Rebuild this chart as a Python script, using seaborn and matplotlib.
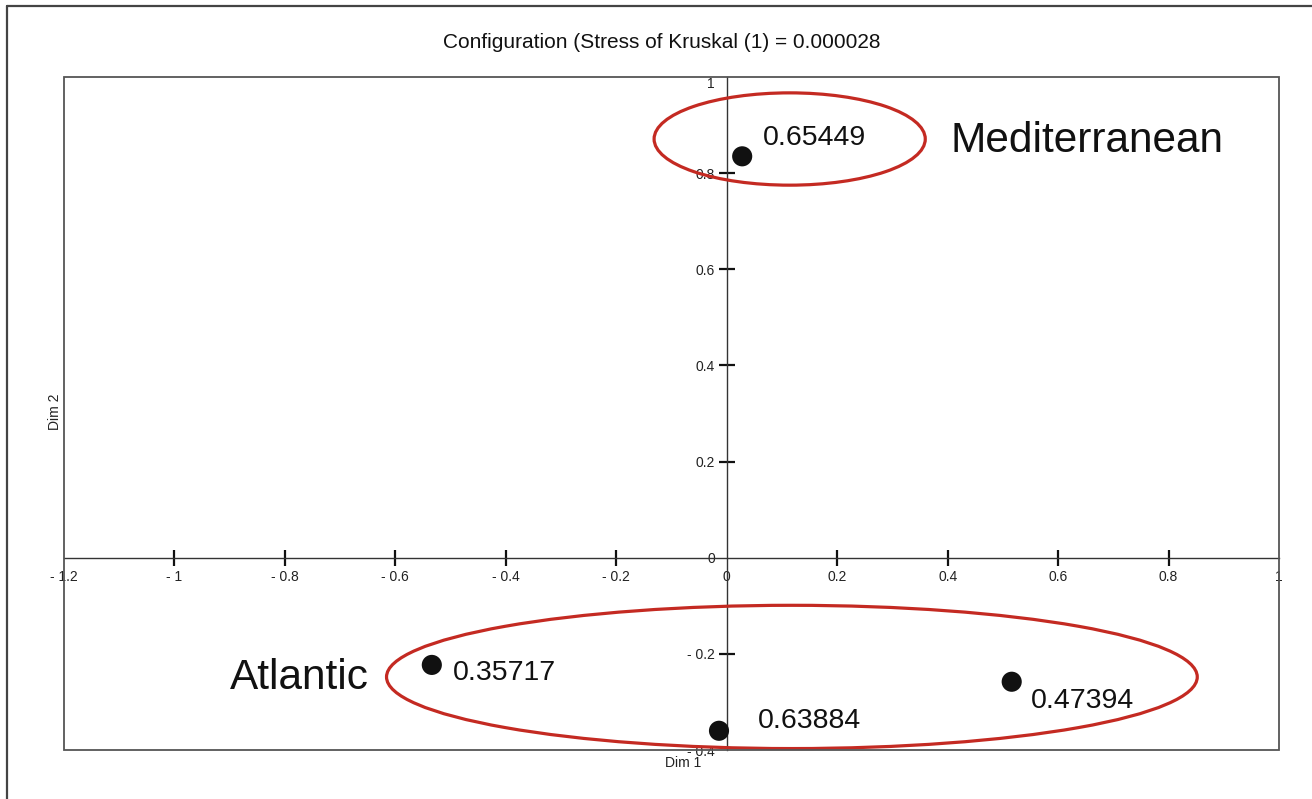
import pandas as pd
import matplotlib
matplotlib.use("Agg")
import matplotlib.pyplot as plt
from matplotlib.patches import Ellipse, Rectangle
from matplotlib.lines import Line2D
import seaborn as sns

# MDS configuration
dim1 = [0.028, -0.534, -0.014, 0.516]
dim2 = [0.835, -0.223, -0.360, -0.258]
valores = ["0.65449", "0.35717", "0.63884", "0.47394"]
offsets = [(15, 13), (15, -6), (28, 7), (14, -14)]  # points

grupos = ["Mediterranean", "Atlantic"]
grupo_xy = [(0.406, 0.867), (-0.899, -0.250)]
elipses = [((0.114, 0.871), 0.491, 0.192), ((0.118, -0.248), 1.468, 0.298)]

xticks = [-1.2, -1, -0.8, -0.6, -0.4, -0.2, 0, 0.2, 0.4, 0.6, 0.8, 1]
yticks = [-0.4, -0.2, 0, 0.2, 0.4, 0.6, 0.8, 1]


def etiqueta(v):
    s = f"{abs(v):g}"
    return "- " + s if v < 0 else s


df = pd.DataFrame({"dim1": dim1, "dim2": dim2, "valor": valores})

sns.set_style("white")
plt.rcParams["font.family"] = ["Liberation Sans", "DejaVu Sans"]

fig = plt.figure(figsize=(13.12, 7.99), dpi=100)
ax = fig.add_axes([64 / 1312, 1 - 750 / 799, 1215 / 1312, 673 / 799])

sns.scatterplot(data=df, x="dim1", y="dim2", color="#111111", s=210,
                edgecolor="none", ax=ax, zorder=5, clip_on=False)

for (cx, cy), w, h in elipses:
    ax.add_patch(Ellipse((cx, cy), w, h, fill=False, ec="#c42a22", lw=2.3,
                         zorder=4, clip_on=False))

for x, y, v, off in zip(dim1, dim2, valores, offsets):
    ax.annotate(v, (x, y), xytext=off, textcoords="offset points",
                fontsize=20.5, ha="left", va="center", color="#111111")

for g, (gx, gy) in zip(grupos, grupo_xy):
    ax.text(gx, gy, g, fontsize=30.5, ha="left", va="center", color="#111111")

ax.set_xlim(-1.2, 1)
ax.set_ylim(-0.4, 1)

for s in ["top", "right"]:
    ax.spines[s].set_visible(False)
ax.spines["left"].set_position(("data", 0))
ax.spines["bottom"].set_position(("data", 0))
ax.spines["left"].set_color("#333333")
ax.spines["bottom"].set_color("#333333")
ax.spines["left"].set_linewidth(1.0)
ax.spines["bottom"].set_linewidth(1.0)

ax.add_patch(Rectangle((0, 0), 1, 1, transform=ax.transAxes, fill=False,
                       ec="#555555", lw=1.3, clip_on=False, zorder=6))

ax.set_xticks(xticks)
ax.set_xticklabels([etiqueta(v) for v in xticks])
ax.set_yticks(yticks)
ax.set_yticklabels([etiqueta(v) for v in yticks])
ax.tick_params(axis="both", direction="inout", length=11, width=1.6,
               color="#111111", labelsize=10, labelcolor="#222222", pad=3)
ax.tick_params(axis="both", bottom=True, left=True)

for i, v in enumerate(xticks):
    if v in (-1.2, 0, 1):
        ax.xaxis.get_major_ticks()[i].tick1line.set_visible(False)
for i, v in enumerate(yticks):
    if v in (-0.4, 0, 1):
        ax.yaxis.get_major_ticks()[i].tick1line.set_visible(False)
ax.get_yticklabels()[-1].set_va("top")

ax.set_xlabel("")
ax.set_ylabel("")
fig.text(683 / 1312, 1 - 763 / 799, "Dim 1", fontsize=10, ha="center",
         va="center", color="#222222")
fig.text(55 / 1312, 1 - 412 / 799, "Dim 2", fontsize=10, ha="center",
         va="center", rotation=90, color="#222222")

fig.text(662 / 1312, 1 - 43 / 799, "Configuration (Stress of Kruskal (1) = 0.000028",
         fontsize=15, ha="center", va="center", color="#111111")

# marco exterior
fig.add_artist(Line2D([7 / 1312, 7 / 1312], [0, 1 - 6 / 799], transform=fig.transFigure,
                      color="#444444", lw=1.6))
fig.add_artist(Line2D([7 / 1312, 1], [1 - 6 / 799, 1 - 6 / 799], transform=fig.transFigure,
                      color="#444444", lw=1.6))

fig.savefig("out.png", dpi=100)
